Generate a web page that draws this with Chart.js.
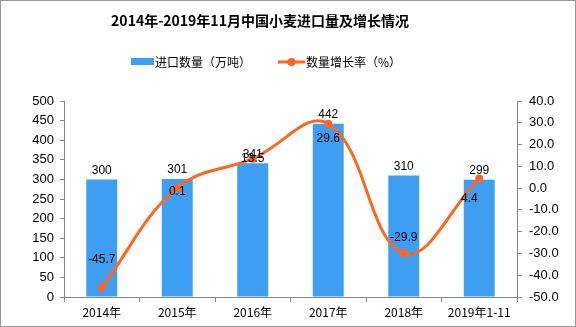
<!DOCTYPE html>
<html>
<head>
<meta charset="utf-8">
<script src="https://cdn.jsdelivr.net/npm/chart.js@4"></script>
<style>
  html, body { margin: 0; padding: 0; background: #fff; }
  #wrap { width: 576px; height: 327px; position: relative; }
</style>
</head>
<body>
<div id="wrap"><canvas id="chart" width="576" height="327"></canvas></div>
<script>
const years = ['2014年', '2015年', '2016年', '2017年', '2018年', '2019年1-11'];
const imports = [300, 301, 341, 442, 310, 299];
const growth = [-45.7, 0.1, 13.5, 29.6, -29.9, 4.4];
const leftTicks = [0, 50, 100, 150, 200, 250, 300, 350, 400, 450, 500];
const rightTicks = [-50, -40, -30, -20, -10, 0, 10, 20, 30, 40];

// where the growth labels sit relative to their point
const growthLabelShift = [[0, -28], [0, 4], [0, 0], [0, 15], [0, -16], [-10, 20]];

const BLUE = 'rgb(61,158,242)';
const ORANGE = 'rgb(255,102,34)';
const numFont = '"Liberation Sans", Arial, sans-serif';
const cjkFont = '"Noto Sans CJK SC", "Noto Sans", sans-serif';

const extras = {
    id: 'extras',
    afterDraw(chart) {
        const ctx = chart.ctx;
        ctx.save();
        // border
        ctx.strokeStyle = '#999';
        ctx.lineWidth = 1;
        ctx.strokeRect(0.5, 0.5, 575, 326);

        // title
        ctx.fillStyle = '#000';
        ctx.font = 'bold 14px ' + cjkFont;
        ctx.textAlign = 'center';
        ctx.textBaseline = 'middle';
        ctx.fillText('2014年-2019年11月中国小麦进口量及增长情况', 260, 21);

        // legend
        ctx.font = '12px ' + cjkFont;
        ctx.textAlign = 'left';
        ctx.fillStyle = BLUE;
        ctx.fillRect(131, 58, 23, 7);
        ctx.fillStyle = '#000';
        ctx.fillText('进口数量（万吨）', 155, 62);
        ctx.strokeStyle = ORANGE;
        ctx.lineWidth = 3;
        ctx.beginPath();
        ctx.moveTo(278, 62);
        ctx.lineTo(305, 62);
        ctx.stroke();
        ctx.fillStyle = ORANGE;
        ctx.beginPath();
        ctx.arc(291.5, 62, 4, 0, Math.PI * 2);
        ctx.fill();
        ctx.fillStyle = '#000';
        ctx.fillText('数量增长率（%）', 306, 62);

        // value labels
        ctx.font = '12px ' + numFont;
        ctx.textAlign = 'center';
        ctx.fillStyle = '#000';
        chart.getDatasetMeta(1).data.forEach((bar, i) => {
            ctx.fillText(String(imports[i]), bar.x, bar.y - 9);
        });
        chart.getDatasetMeta(0).data.forEach((pt, i) => {
            const s = growthLabelShift[i];
            ctx.fillText(growth[i].toFixed(1), pt.x + s[0], pt.y + s[1]);
        });
        ctx.restore();
    }
};

new Chart(document.getElementById('chart'), {
    data: {
        labels: years,
        datasets: [
            {
                type: 'line',
                label: '数量增长率（%）',
                data: growth,
                yAxisID: 'y1',
                borderColor: ORANGE,
                backgroundColor: ORANGE,
                borderWidth: 3,
                tension: 0.4,
                pointRadius: 4,
                pointBackgroundColor: ORANGE,
                pointBorderWidth: 0,
                order: 0
            },
            {
                type: 'bar',
                label: '进口数量（万吨）',
                data: imports,
                yAxisID: 'y',
                backgroundColor: BLUE,
                barPercentage: 0.41,
                categoryPercentage: 1,
                order: 1
            }
        ]
    },
    options: {
        responsive: false,
        animation: false,
        layout: { padding: { top: 101, left: 0, right: 0, bottom: 0 } },
        plugins: {
            legend: { display: false },
            title: { display: false },
            tooltip: { enabled: false }
        },
        scales: {
            x: {
                offset: true,
                grid: { offset: true, drawOnChartArea: false, tickLength: 5, color: '#888' },
                border: { color: '#888' },
                ticks: { color: '#000', font: { size: 12, family: cjkFont }, padding: 3, maxRotation: 0, autoSkip: false },
                afterFit: s => { s.height = 30; }
            },
            y: {
                position: 'left',
                min: 0,
                max: 500,
                afterBuildTicks: s => { s.ticks = leftTicks.map(v => ({ value: v })); },
                grid: { drawOnChartArea: false, tickLength: 4, color: '#888' },
                border: { color: '#888' },
                ticks: { color: '#000', font: { size: 13, family: numFont }, padding: 6 },
                afterFit: s => { s.width = 64; }
            },
            y1: {
                position: 'right',
                min: -50,
                max: 40,
                afterBuildTicks: s => { s.ticks = rightTicks.map(v => ({ value: v })); },
                grid: { drawOnChartArea: false, tickLength: 5, color: '#888' },
                border: { color: '#888' },
                ticks: { color: '#000', font: { size: 13, family: numFont }, padding: 7, callback: v => Number(v).toFixed(1) },
                afterFit: s => { s.width = 59; }
            }
        }
    },
    plugins: [extras]
});
</script>
</body>
</html>
